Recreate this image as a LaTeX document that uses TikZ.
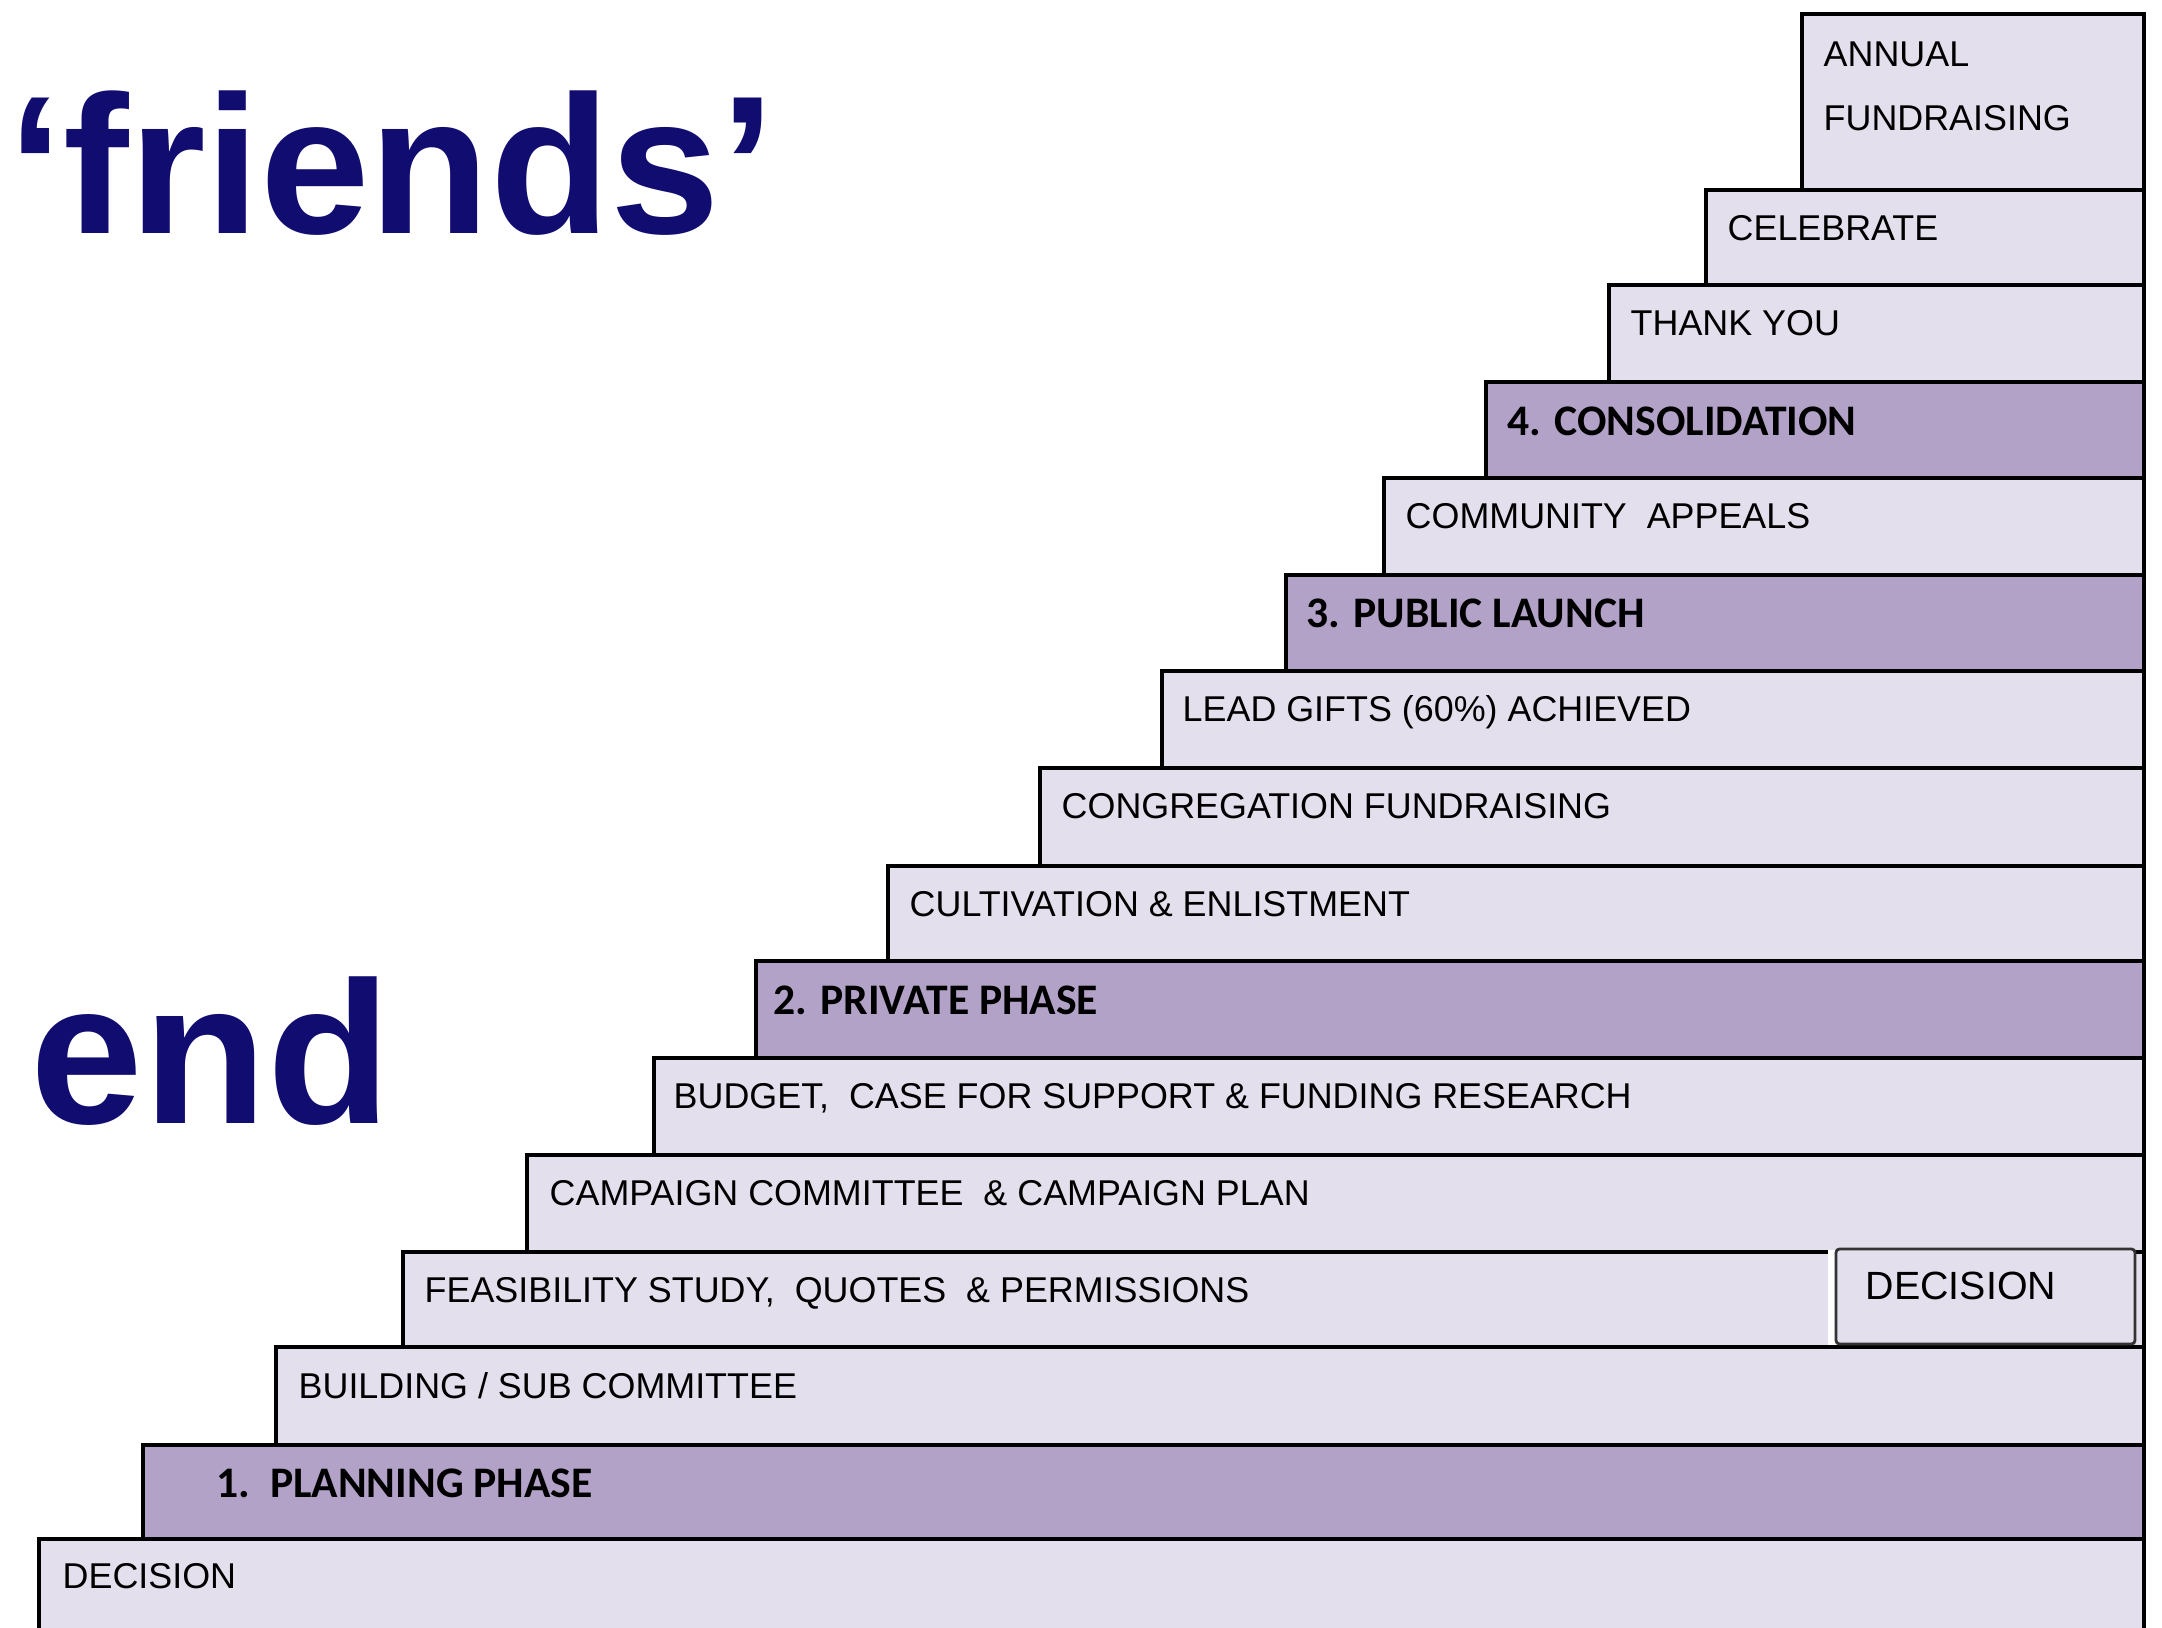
\documentclass[tikz,border=0pt]{standalone}
\usepackage{fontspec}
\setmainfont{Liberation Sans}
\newfontfamily\phasefont{Carlito}
\usetikzlibrary{calc}

\definecolor{steplight}{HTML}{E4DFEC}
\definecolor{stepdark}{HTML}{B2A2C7}
\definecolor{titleblue}{RGB}{16,12,112}

\tikzset{
  stepbox/.style={fill=steplight, draw=black, line width=0.9pt},
  phasebox/.style={fill=stepdark, draw=black, line width=1.2pt},
  steptext/.style={anchor=base west, inner sep=0pt, font=\fontsize{10.2}{12}\selectfont},
  phasetext/.style={anchor=base west, inner sep=0pt, font=\phasefont\bfseries\fontsize{12.4}{15}\selectfont},
  titletext/.style={anchor=base west, inner sep=0pt, text=titleblue, font=\bfseries\fontsize{56}{60}\selectfont}
}

\begin{document}
\begin{tikzpicture}[x=0.01cm, y=-0.01cm]
      \useasboundingbox (0,0) rectangle (2162,1628);

      % title
      \node[titletext] (friends) at (8,234) {‘friends’};
      \node[titletext, font=\bfseries\fontsize{57.6}{60}\selectfont] (end) at (30,1124) {end};

      % steps, top down
      \draw[stepbox] (1802,14) rectangle (2144,190);
      \draw[stepbox] (1706,190) rectangle (2144,285);
      \draw[stepbox] (1609,285) rectangle (2144,382);
      \draw[phasebox] (1486,382) rectangle (2144,478);
      \draw[stepbox] (1384,478) rectangle (2144,575);
      \draw[phasebox] (1286,575) rectangle (2144,671);
      \draw[stepbox] (1162,671) rectangle (2144,768);
      \draw[stepbox] (1040,768) rectangle (2144,866);
      \draw[stepbox] (888,866) rectangle (2144,961);
      \draw[phasebox] (756,961) rectangle (2144,1058);
      \draw[stepbox] (654,1058) rectangle (2144,1155);
      \draw[stepbox] (527,1155) rectangle (2144,1252);
      \draw[stepbox] (403,1252) rectangle (2144,1347);
      \draw[stepbox] (276,1347) rectangle (2144,1445);
      \draw[phasebox] (143,1445) rectangle (2144,1539);
      \fill[steplight] (39,1539) rectangle (2144,1640);
      \draw[line width=0.9pt] (39,1640) -- (39,1539) -- (2144,1539) -- (2144,1640);

      % second decision
      \fill[white] (1828,1250) rectangle (1837,1345);
      \draw[fill=steplight, draw=black!80, line width=0.8pt, rounded corners=1pt] (1836,1249) rectangle (2135,1344);

      \node[steptext, align=left, anchor=north west, font=\fontsize{10.2}{18.2}\selectfont] (annual) at (1823,41) {ANNUAL\\FUNDRAISING};
      \node[steptext] (celebrate) at (1727,241) {CELEBRATE};
      \node[steptext] (thankyou) at (1630,336) {THANK YOU};
      \node[phasetext] (consolidation) at (1507,436) {4. CONSOLIDATION};
      \node[steptext] (community) at (1405,529) {COMMUNITY~~APPEALS};
      \node[phasetext] (launch) at (1306,628) {3. PUBLIC LAUNCH};
      \node[steptext] (leadgifts) at (1182,722) {LEAD GIFTS (60\%) ACHIEVED};
      \node[steptext] (congregation) at (1061,819) {CONGREGATION FUNDRAISING};
      \node[steptext] (cultivation) at (909,917) {CULTIVATION \& ENLISTMENT};
      \node[phasetext] (private) at (773,1015) {2. PRIVATE PHASE};
      \node[steptext] (budget) at (673,1109) {BUDGET,~~CASE FOR SUPPORT \& FUNDING RESEARCH};
      \node[steptext] (campaign) at (549,1206) {CAMPAIGN COMMITTEE~~\& CAMPAIGN PLAN};
      \node[steptext] (feasibility) at (424,1303) {FEASIBILITY STUDY,~~QUOTES~~\& PERMISSIONS};
      \node[steptext, font=\fontsize{11.2}{13}\selectfont] (decisiontwo) at (1865,1300) {DECISION};
      \node[steptext] (building) at (298,1399) {BUILDING / SUB COMMITTEE};
      \node[phasetext] (planning) at (216,1498) {1.~~PLANNING PHASE};
      \node[steptext] (decision) at (62,1589) {DECISION};
    \end{tikzpicture}
\end{document}
